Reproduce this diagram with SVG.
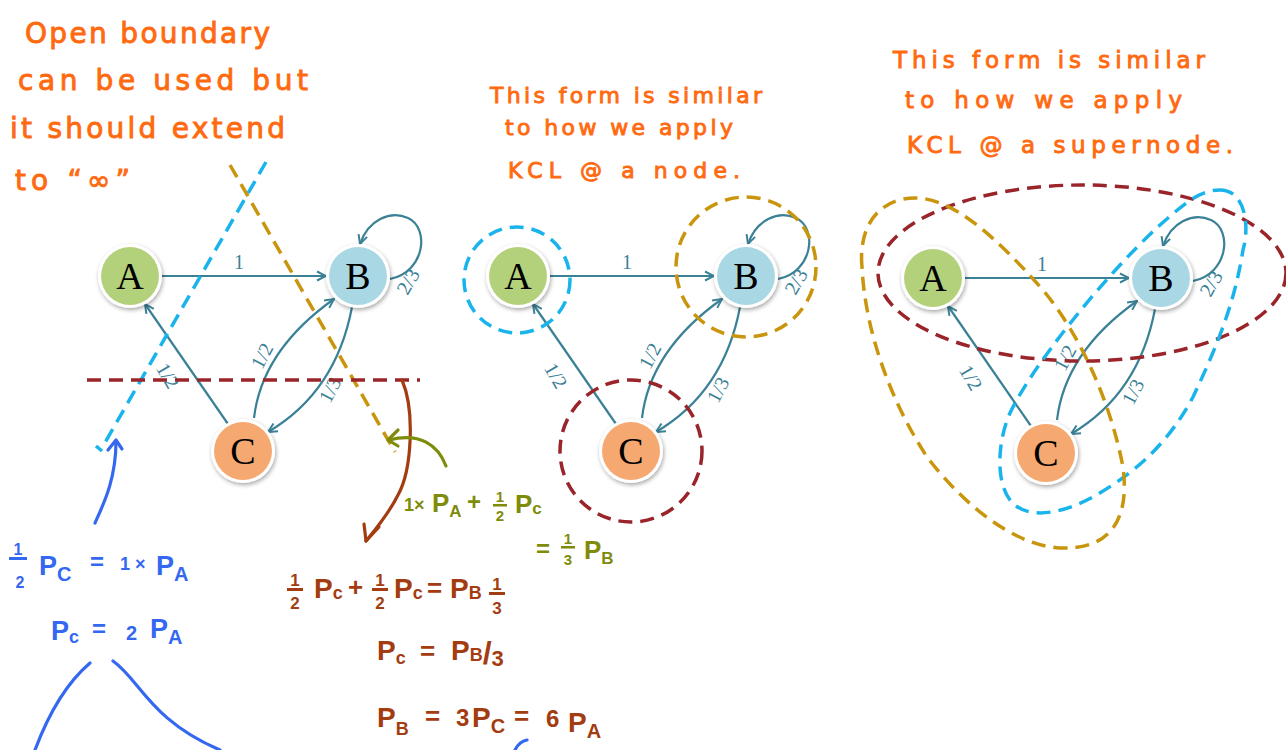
<svg xmlns="http://www.w3.org/2000/svg" width="1286" height="750" viewBox="0 0 1286 750">
<style>
.bg{fill:#ffffff}
.edge{fill:none;stroke:#3b8196;stroke-width:2.2}
.elab{font-family:"Liberation Serif",serif;font-size:20px;fill:#3b8196}
.nlab{font-family:"Liberation Serif",serif;font-size:38px;fill:#000;text-anchor:middle}
.ring{fill:#fff;filter:url(#sh)}
.nA{fill:#b3d17a}.nB{fill:#a9d7e3}.nC{fill:#f5a870}
.dash{fill:none;stroke-width:3.5;stroke-dasharray:14 8}
.cy{stroke:#19b4ec}.gd{stroke:#c9950c}.rd{stroke:#99242a}
.note{font-family:"DejaVu Sans","Liberation Sans",sans-serif;fill:#ff6a10;stroke:#ff6a10;stroke-width:0.9}
.eq{font-family:"Liberation Sans",sans-serif;font-weight:bold}
.grn{fill:#7e8c0a}.brn{fill:#a33c10}.blu{fill:#3468f0}
.hand{fill:none;stroke-width:3.2;stroke-linecap:round;stroke-linejoin:round}
</style>
<defs>
<filter id="sh" x="-30%" y="-30%" width="160%" height="160%"><feDropShadow dx="1" dy="2" stdDeviation="2" flood-color="#000" flood-opacity="0.35"/></filter>
<marker id="ah" viewBox="0 0 12 12" refX="11" refY="6" markerWidth="12" markerHeight="12" markerUnits="userSpaceOnUse" orient="auto"><path d="M2,1.5 L11,6 L2,10.5" fill="none" stroke="#3b8196" stroke-width="2"/></marker>
</defs>
<rect class="bg" x="0" y="0" width="1286" height="750"/>

<!-- Notes -->
<g id="note-left" class="note" font-size="28">
<text x="25" y="43" textLength="245" lengthAdjust="spacing">Open boundary</text>
<text x="18" y="90" textLength="290" lengthAdjust="spacing">can be used but</text>
<text x="10" y="138" textLength="275" lengthAdjust="spacing">it should extend</text>
<text x="15" y="190" textLength="115" lengthAdjust="spacing">to “∞”</text>
</g>
<g id="note-mid" class="note" font-size="22">
<text x="490" y="103" textLength="272" lengthAdjust="spacing">This form is similar</text>
<text x="505" y="135" textLength="228" lengthAdjust="spacing">to how we apply</text>
<text x="508" y="178" textLength="232" lengthAdjust="spacing">KCL @ a node.</text>
</g>
<g id="note-right" class="note" font-size="23">
<text x="893" y="68" textLength="312" lengthAdjust="spacing">This form is similar</text>
<text x="905" y="108" textLength="277" lengthAdjust="spacing">to how we apply</text>
<text x="907" y="153" textLength="326" lengthAdjust="spacing">KCL @ a supernode.</text>
</g>

<!-- Graph 1 -->
<g id="graph1">
<g id="g1-connectors">
<path class="edge" d="M162,276 L326,276" marker-end="url(#ah)"/>
<path class="edge" d="M390,279 C425,272 430,228 408,218 C390,210 368,220 360,244" marker-end="url(#ah)"/>
<path class="edge" d="M228,424 L145,304" marker-end="url(#ah)"/>
<path class="edge" d="M254,418 Q262,350 334,299" marker-end="url(#ah)"/>
<path class="edge" d="M352,307 Q336,392 268,432" marker-end="url(#ah)"/>
<text class="elab" x="239" y="269" text-anchor="middle">1</text>
<text class="elab" transform="translate(414,285) rotate(-60)" text-anchor="middle">2/3</text>
<text class="elab" transform="translate(162,379) rotate(60)" text-anchor="middle">1/2</text>
<text class="elab" transform="translate(268,359) rotate(-62)" text-anchor="middle">1/2</text>
<text class="elab" transform="translate(336,393) rotate(-62)" text-anchor="middle">1/3</text>
</g>
<g id="g1-A"><circle class="ring" cx="130" cy="276" r="32"/><circle class="nA" cx="130" cy="276" r="29"/><text class="nlab" x="130" y="289">A</text></g>
<g id="g1-B"><circle class="ring" cx="358" cy="276" r="32"/><circle class="nB" cx="358" cy="276" r="29"/><text class="nlab" x="358" y="289">B</text></g>
<g id="g1-C"><circle class="ring" cx="243" cy="451" r="32"/><circle class="nC" cx="243" cy="451" r="29"/><text class="nlab" x="243" y="464">C</text></g>
<g id="g1-boundaries">
<path class="dash cy" d="M266,162 L103,446"/>
<path class="dash cy" d="M96,446 L102,451" stroke-dasharray="none"/>
<path class="dash gd" d="M230,165 L395,452"/>
<path class="dash rd" d="M87,380 L420,380"/>
</g>
</g>

<!-- Graph 2 -->
<g id="graph2">
<g id="g2-connectors">
<path class="edge" d="M550,276 L714,276" marker-end="url(#ah)"/>
<path class="edge" d="M778,279 C813,272 818,228 796,218 C778,210 756,220 748,244" marker-end="url(#ah)"/>
<path class="edge" d="M616,424 L533,304" marker-end="url(#ah)"/>
<path class="edge" d="M642,418 Q650,350 722,299" marker-end="url(#ah)"/>
<path class="edge" d="M740,307 Q724,392 656,432" marker-end="url(#ah)"/>
<text class="elab" x="627" y="269" text-anchor="middle">1</text>
<text class="elab" transform="translate(802,285) rotate(-60)" text-anchor="middle">2/3</text>
<text class="elab" transform="translate(550,379) rotate(60)" text-anchor="middle">1/2</text>
<text class="elab" transform="translate(656,359) rotate(-62)" text-anchor="middle">1/2</text>
<text class="elab" transform="translate(724,393) rotate(-62)" text-anchor="middle">1/3</text>
</g>
<g id="g2-A"><circle class="ring" cx="518" cy="276" r="32"/><circle class="nA" cx="518" cy="276" r="29"/><text class="nlab" x="518" y="289">A</text></g>
<g id="g2-B"><circle class="ring" cx="746" cy="276" r="32"/><circle class="nB" cx="746" cy="276" r="29"/><text class="nlab" x="746" y="289">B</text></g>
<g id="g2-C"><circle class="ring" cx="631" cy="451" r="32"/><circle class="nC" cx="631" cy="451" r="29"/><text class="nlab" x="631" y="464">C</text></g>
<g id="g2-boundaries">
<circle class="dash cy" cx="517" cy="280" r="53"/>
<circle class="dash gd" cx="746" cy="267" r="70"/>
<circle class="dash rd" cx="631" cy="451" r="71"/>
</g>
</g>

<!-- Graph 3 -->
<g id="graph3">
<g id="g3-connectors">
<path class="edge" d="M965,278 L1129,278" marker-end="url(#ah)"/>
<path class="edge" d="M1193,281 C1228,274 1233,230 1211,220 C1193,212 1171,222 1163,246" marker-end="url(#ah)"/>
<path class="edge" d="M1031,426 L948,306" marker-end="url(#ah)"/>
<path class="edge" d="M1057,420 Q1065,352 1137,301" marker-end="url(#ah)"/>
<path class="edge" d="M1155,309 Q1139,394 1071,434" marker-end="url(#ah)"/>
<text class="elab" x="1042" y="271" text-anchor="middle">1</text>
<text class="elab" transform="translate(1217,287) rotate(-60)" text-anchor="middle">2/3</text>
<text class="elab" transform="translate(965,381) rotate(60)" text-anchor="middle">1/2</text>
<text class="elab" transform="translate(1071,361) rotate(-62)" text-anchor="middle">1/2</text>
<text class="elab" transform="translate(1139,395) rotate(-62)" text-anchor="middle">1/3</text>
</g>
<g id="g3-A"><circle class="ring" cx="933" cy="278" r="32"/><circle class="nA" cx="933" cy="278" r="29"/><text class="nlab" x="933" y="291">A</text></g>
<g id="g3-B"><circle class="ring" cx="1161" cy="278" r="32"/><circle class="nB" cx="1161" cy="278" r="29"/><text class="nlab" x="1161" y="291">B</text></g>
<g id="g3-C"><circle class="ring" cx="1046" cy="453" r="32"/><circle class="nC" cx="1046" cy="453" r="29"/><text class="nlab" x="1046" y="466">C</text></g>
<g id="g3-boundaries">
<ellipse class="dash rd" cx="1082" cy="273" rx="204" ry="88"/>
<path class="dash cy" d="M1220,190 C1245,190 1250,225 1243,250 C1235,300 1220,340 1193,397 C1170,440 1140,470 1093,497 C1060,515 1025,520 1010,500 C995,480 998,440 1010,413 C1030,370 1100,280 1160,225 C1185,203 1200,190 1220,190 Z"/>
<path class="dash gd" d="M862,267 C858,225 880,198 915,198 C950,198 990,230 1043,290 C1080,335 1110,400 1123,467 C1130,520 1110,550 1060,548 C1010,545 960,500 927,457 C890,400 865,330 862,267 Z"/>
</g>
</g>

<!-- Handwritten arrows -->
<g id="hand-arrows">
<path class="hand" stroke="#a33c10" d="M402,380 C415,410 412,470 398,495 C388,515 375,530 366,541"/>
<path class="hand" stroke="#a33c10" d="M379,527 L366,541 L364,524"/>
<path class="hand" stroke="#7e8c0a" d="M446,466 C438,445 420,432 389,440"/>
<path class="hand" stroke="#7e8c0a" d="M398,430 L388,440 L398,446"/>
<path class="hand" stroke="#3468f0" d="M95,523 C103,505 116,480 116,441"/>
<path class="hand" stroke="#3468f0" d="M108,450 L116,440 L122,449"/>
<path class="hand" stroke="#3468f0" d="M90,663 C70,680 50,710 35,750"/>
<path class="hand" stroke="#3468f0" d="M113,661 C140,680 150,720 220,750"/>
<path class="hand" stroke="#3468f0" d="M515,750 C518,744 521,741 527,740"/>
</g>

<!-- Green equation -->
<g id="eq-green" class="eq grn">
<text x="404" y="511" font-size="18">1×</text>
<text x="432" y="512" font-size="26">P<tspan font-size="17" dy="5">A</tspan></text>
<text x="467" y="510" font-size="24">+</text>
<text x="500" y="502" font-size="15" text-anchor="middle">1</text>
<rect x="493" y="504" width="14" height="2.5"/>
<text x="500" y="521" font-size="15" text-anchor="middle">2</text>
<text x="515" y="513" font-size="26">P<tspan font-size="17" dy="1">c</tspan></text>
<text x="536" y="557" font-size="24">=</text>
<text x="568" y="544" font-size="15" text-anchor="middle">1</text>
<rect x="561" y="546" width="14" height="2.5"/>
<text x="568" y="565" font-size="15" text-anchor="middle">3</text>
<text x="584" y="559" font-size="26">P<tspan font-size="17" dy="5">B</tspan></text>
</g>

<!-- Brown equations -->
<g id="eq-brown" class="eq brn">
<text x="295" y="586" font-size="17" text-anchor="middle">1</text>
<rect x="287" y="588" width="16" height="3"/>
<text x="295" y="609" font-size="17" text-anchor="middle">2</text>
<text x="314" y="598" font-size="28">P<tspan font-size="18" dy="1">c</tspan></text>
<text x="348" y="596" font-size="26">+</text>
<text x="380" y="586" font-size="17" text-anchor="middle">1</text>
<rect x="372" y="588" width="16" height="3"/>
<text x="380" y="609" font-size="17" text-anchor="middle">2</text>
<text x="394" y="598" font-size="28">P<tspan font-size="18" dy="1">c</tspan></text>
<text x="427" y="597" font-size="26">=</text>
<text x="450" y="598" font-size="28">P<tspan font-size="18" dy="1">B</tspan></text>
<text x="497" y="590" font-size="17" text-anchor="middle">1</text>
<rect x="489" y="592" width="16" height="3"/>
<text x="497" y="614" font-size="17" text-anchor="middle">3</text>
<text x="377" y="660" font-size="28">P<tspan font-size="18" dy="4">c</tspan></text>
<text x="420" y="660" font-size="26">=</text>
<text x="451" y="660" font-size="28">P<tspan font-size="18" dy="1">B</tspan><tspan font-size="32" dy="3">/</tspan><tspan font-size="22" dy="2">3</tspan></text>
<text x="377" y="727" font-size="28">P<tspan font-size="18" dy="8">B</tspan></text>
<text x="425" y="725" font-size="26">=</text>
<text x="456" y="726" font-size="24">3</text>
<text x="472" y="727" font-size="28">P<tspan font-size="20" dy="6">C</tspan></text>
<text x="514" y="725" font-size="26">=</text>
<text x="546" y="727" font-size="24">6</text>
<text x="568" y="732" font-size="28">P<tspan font-size="20" dy="6">A</tspan></text>
</g>

<!-- Blue equations -->
<g id="eq-blue" class="eq blu">
<text x="18" y="555" font-size="16" text-anchor="middle">1</text>
<rect x="9" y="557" width="18" height="3"/>
<text x="20" y="588" font-size="16" text-anchor="middle">2</text>
<text x="39" y="575" font-size="27">P<tspan font-size="20" dy="6">C</tspan></text>
<text x="90" y="570" font-size="24">=</text>
<text x="120" y="570" font-size="18">1</text>
<text x="135" y="570" font-size="18">×</text>
<text x="156" y="575" font-size="27">P<tspan font-size="20" dy="6">A</tspan></text>
<text x="51" y="640" font-size="27">P<tspan font-size="18" dy="3">c</tspan></text>
<text x="92" y="637" font-size="24">=</text>
<text x="126" y="640" font-size="20">2</text>
<text x="150" y="638" font-size="27">P<tspan font-size="20" dy="6">A</tspan></text>
</g>
</svg>
